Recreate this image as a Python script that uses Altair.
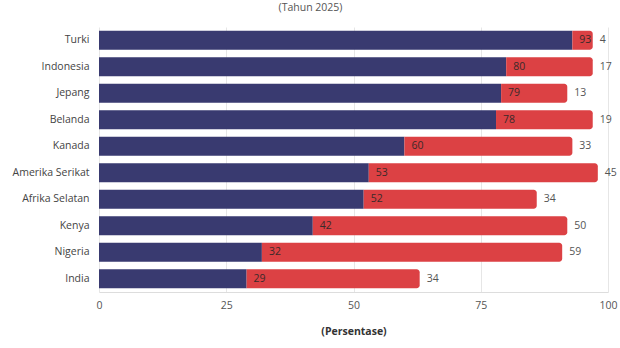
import altair as alt
import pandas as pd

countries = ["Turki", "Indonesia", "Jepang", "Belanda", "Kanada",
             "Amerika Serikat", "Afrika Selatan", "Kenya", "Nigeria", "India"]
first_vals = [93, 80, 79, 78, 60, 53, 52, 42, 32, 29]
second_vals = [4, 17, 13, 19, 33, 45, 34, 50, 59, 34]
x_ticks = [0, 25, 50, 75, 100]

df = pd.DataFrame({
    "negara": countries,
    "a": first_vals,
    "b": second_vals,
})
df["total"] = df["a"] + df["b"]

FONT = "Open Sans"
NAVY = "#393a70"
RED = "#dc4144"

y_enc = alt.Y("negara:N", sort=countries, title=None,
              scale=alt.Scale(paddingInner=0.3, paddingOuter=0.15),
              axis=alt.Axis(labelFontSize=10.5, labelColor="#444", labelFont=FONT,
                            ticks=False, domain=False, labelPadding=10, grid=False))

x_scale = alt.Scale(domain=[0, 100], nice=False)

base = alt.Chart(df)

blue = base.mark_bar(color=NAVY, size=19).encode(
    y=y_enc,
    x=alt.X("a:Q", scale=x_scale, title="(Persentase)",
            axis=alt.Axis(values=x_ticks, labelFontSize=10.5, labelColor="#555", labelFont=FONT,
                          ticks=False, domainColor="#dddddd", gridColor="#e6e6e6",
                          labelFlush=False,
                          labelPadding=8, titleFontSize=10.5, titleFont=FONT,
                          titleFontWeight="bold", titleColor="#333", titlePadding=16)),
    x2=alt.value(0),
)

red = base.mark_bar(color=RED, size=19, cornerRadiusTopRight=3,
                    cornerRadiusBottomRight=3).encode(
    y=alt.Y("negara:N", sort=countries),
    x=alt.X("a:Q"),
    x2="total:Q",
)

lab_a = base.mark_text(align="left", baseline="middle", dx=7, fontSize=10.5,
                       font=FONT, color="#3a2a2a").encode(
    y=alt.Y("negara:N", sort=countries),
    x=alt.X("a:Q"),
    text="a:Q",
)

lab_b = base.mark_text(align="left", baseline="middle", dx=7, fontSize=10.5,
                       font=FONT, color="#555").encode(
    y=alt.Y("negara:N", sort=countries),
    x=alt.X("total:Q"),
    text="b:Q",
)

chart = alt.layer(blue, red, lab_a, lab_b).properties(
    width=509, height=265,
    title=alt.TitleParams("(Tahun 2025)", fontSize=10.5, font=FONT, fontWeight="normal",
                          color="#555", anchor="middle", dx=-43, offset=14),
    autosize=alt.AutoSizeParams(type="none"),
    padding={"left": 99, "top": 27, "right": 12, "bottom": 56},
).configure_view(stroke=None)

chart.save("out.html", embed_options={"renderer": "svg", "actions": False})
